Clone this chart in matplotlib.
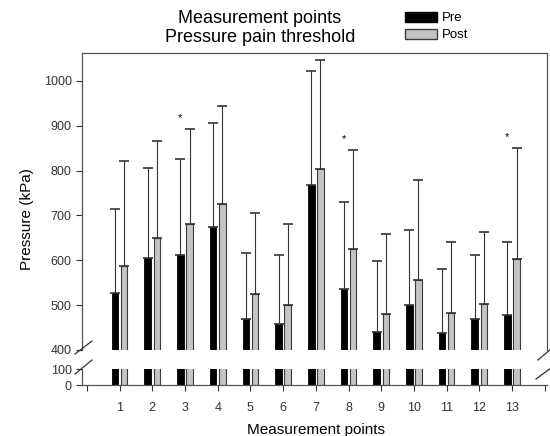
import numpy as np
import matplotlib
matplotlib.use("Agg")
import matplotlib.pyplot as plt
from matplotlib.patches import Patch
from matplotlib.lines import Line2D

plt.rcParams['font.family'] = ['Liberation Sans', 'DejaVu Sans']

points = np.arange(1, 14)
pre = [526, 605, 612, 675, 470, 457, 767, 537, 441, 500, 439, 468, 477]
pre_sd = [189, 201, 213, 232, 147, 154, 254, 192, 158, 168, 141, 144, 163]
post = [588, 650, 680, 725, 525, 500, 803, 625, 481, 557, 482, 502, 603]
post_sd = [233, 216, 212, 218, 180, 180, 243, 221, 178, 222, 158, 161, 247]
signif = [3, 8, 13]

W, H = 550, 436
fig = plt.figure(figsize=(W / 100, H / 100), dpi=100)
ax_top = fig.add_axes([82 / W, (H - 350) / H, 465 / W, 297 / H])
ax_bot = fig.add_axes([82 / W, (H - 385) / H, 465 / W, 16 / H])

off = 0.14
bw = 0.2
pre_x = points - off
post_x = points + off

for ax in (ax_top, ax_bot):
    ax.bar(pre_x, pre, width=bw, color='black', edgecolor='black', lw=0.6)
    ax.bar(post_x, post, width=bw, color='#c4c4c4', edgecolor='#3a3a3a', lw=0.8)
    ax.set_xlim(-0.15, 14.07)
    ax.tick_params(direction='out', labelsize=9, length=4, width=0.8, colors='#333333')
    for s in ax.spines.values():
        s.set_color('#555555')
        s.set_linewidth(0.9)

# one-sided error bars (upward only)
zeros = np.zeros(len(points))
ax_top.errorbar(pre_x, pre, yerr=[zeros, pre_sd], fmt='none', ecolor='#333333',
                elinewidth=0.8, capsize=3.5, capthick=1.2)
ax_top.errorbar(post_x, post, yerr=[zeros, post_sd], fmt='none', ecolor='#333333',
                elinewidth=0.8, capsize=3.5, capthick=1.2)

# significance stars
for p in signif:
    i = p - 1
    top = max(pre[i] + pre_sd[i], post[i] + post_sd[i])
    ax_top.text(p - off, top + 14, '*', ha='center', va='bottom', fontsize=8)

ax_top.set_ylim(400, 1062)
ax_top.set_yticks([400, 500, 600, 700, 800, 900, 1000])
ax_top.spines['bottom'].set_visible(False)
ax_top.tick_params(axis='x', bottom=False, labelbottom=False)

ax_bot.set_ylim(0, 100)
ax_bot.set_yticks([0, 100])
ax_bot.spines['top'].set_visible(False)
ax_bot.spines['right'].set_visible(False)
ax_bot.set_xticks(range(0, 15))
ax_bot.set_xticklabels([''] + [str(p) for p in points] + [''])
ax_bot.tick_params(axis='x', pad=8)

# break marks
def brk(x0, y0, x1, y1):
    fig.add_artist(Line2D([x0 / W, x1 / W], [1 - y0 / H, 1 - y1 / H],
                          color='#333333', lw=0.9))

brk(75, 354, 92, 341)
brk(75, 374, 92, 360)
brk(538, 360, 551, 349)
brk(536, 379, 551, 368)

fig.text(27 / W, 1 - 219 / H, 'Pressure (kPa)', rotation=90, ha='center', va='center',
         fontsize=11)
fig.text(316 / W, 1 - 430 / H, 'Measurement points', ha='center', va='center', fontsize=11)
fig.text(260 / W, 1 - 28 / H, 'Measurement points\nPressure pain threshold',
         ha='center', va='center', fontsize=13, linespacing=1.1)

handles = [Patch(facecolor='black', edgecolor='black', label='Pre'),
           Patch(facecolor='#c4c4c4', edgecolor='#3a3a3a', label='Post')]
fig.legend(handles=handles, loc='upper left', bbox_to_anchor=(405 / W, 1 - 12 / H),
           frameon=False, fontsize=9.5, handlelength=2.4, handleheight=0.75,
           borderpad=0, borderaxespad=0, handletextpad=0.4, labelspacing=0.35)

fig.savefig('out.png', dpi=100)
